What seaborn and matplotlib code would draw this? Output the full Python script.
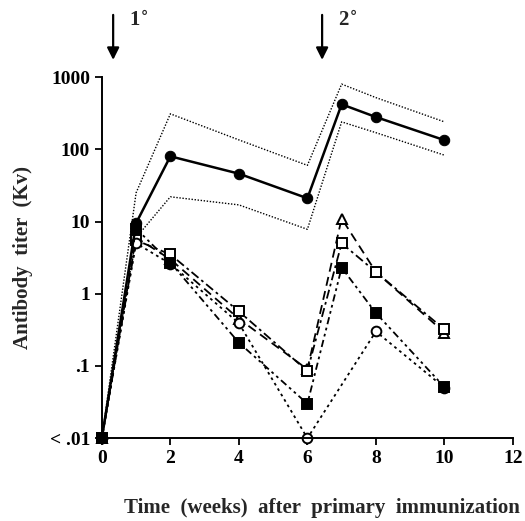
import numpy as np
import pandas as pd
import seaborn as sns
import matplotlib
matplotlib.use("Agg")
import matplotlib.pyplot as plt

# values (titer, Kv); .01 means "< .01", nan = no point
weeks = [0, 1, 2, 4, 6, 7, 8, 10]
mean_titer = [0.01, 9.5, 80, 46, 21, 420, 280, 134]
upper_band = [0.01, 25, 310, 135, 60, 800, 520, 240]
lower_band = [0.01, 6, 22, 17, 7.8, 240, 170, 83]
tri_open = [0.01, 6.0, 3.0, 0.45, 0.09, 11, 2.0, 0.29]
sq_open = [0.01, 5.5, 3.5, 0.57, 0.085, 5.0, 2.0, 0.32]
sq_filled = [0.01, 8.0, 2.7, 0.21, 0.03, 2.3, 0.54, 0.051]
circ_open = [0.01, 5.0, 2.6, 0.39, 0.01, np.nan, 0.30, 0.05]

yticks = [0.01, 0.1, 1, 10, 100, 1000]
ytick_labels = ["< .01", ".1", "1", "10", "100", "1000"]
xticks = [0, 2, 4, 6, 8, 10, 12]

sns.set_theme(style="ticks")
plt.rcParams["font.family"] = ["Liberation Serif", "DejaVu Serif"]
plt.rcParams["font.weight"] = "bold"

fig = plt.figure(figsize=(5.25, 5.21), dpi=100)
ax = fig.add_axes([0.194, 0.159, 0.783, 0.693])


def frame(vals):
    return pd.DataFrame({"week": weeks, "titer": vals}).dropna()


# dotted envelope around the mean
for band in [upper_band, lower_band]:
    sns.lineplot(data=frame(band), x="week", y="titer", ax=ax, color="black",
                 lw=1.0, linestyle=(0, (1, 1.2)), clip_on=False)

series = [
    (tri_open, "^", "white", (0, (5, 3))),
    (sq_open, "s", "white", (0, (5, 2, 1.5, 2))),
    (circ_open, "o", "white", (0, (1.5, 2))),
    (sq_filled, "s", "black", (0, (4, 2, 1.5, 2, 1.5, 2))),
]
for vals, mk, fc, ls in series:
    sns.lineplot(data=frame(vals), x="week", y="titer", ax=ax, color="black", lw=1.3,
                 linestyle=ls, marker=mk, markersize=7, markerfacecolor=fc,
                 markeredgecolor="black", markeredgewidth=1.4, clip_on=False)

sns.lineplot(data=frame(mean_titer), x="week", y="titer", ax=ax, color="black", lw=1.8,
             marker="o", markersize=7.5, markerfacecolor="black",
             markeredgecolor="black", clip_on=False, zorder=5)

ax.set_yscale("log")
ax.set_ylim(0.01, 1000)
ax.set_xlim(0, 12)
ax.set_yticks(yticks)
ax.set_yticklabels(ytick_labels)
ax.yaxis.set_minor_locator(matplotlib.ticker.NullLocator())
ax.set_xticks(xticks)
ax.tick_params(axis="both", labelsize=14, width=1.3, length=5, colors="black")
for lbl in ax.get_xticklabels() + ax.get_yticklabels():
    lbl.set_fontweight("bold")
sns.despine(ax=ax)
for s in ["left", "bottom"]:
    ax.spines[s].set_linewidth(1.4)
    ax.spines[s].set_color("black")

ax.set_xlabel("Time  (weeks)  after  primary  immunization", fontsize=15,
              fontweight="bold")
ax.xaxis.set_label_coords(0.535, -0.165)
ax.set_ylabel("Antibody  titer  (Kv)", fontsize=15, fontweight="bold", labelpad=12)

# immunization arrows
for wk, txt in [(0.33, "1$^{\\circ}$"), (6.43, "2$^{\\circ}$")]:
    ax.annotate("", xy=(wk, 1.04), xytext=(wk, 1.18),
                xycoords=("data", "axes fraction"),
                arrowprops=dict(arrowstyle="-|>", color="black", lw=1.6,
                                mutation_scale=18))
    ax.text(wk + 0.45, 1.155, txt, transform=ax.get_xaxis_transform(),
            fontsize=15, fontweight="bold", ha="left", va="center")

fig.savefig("out.png", dpi=100)
